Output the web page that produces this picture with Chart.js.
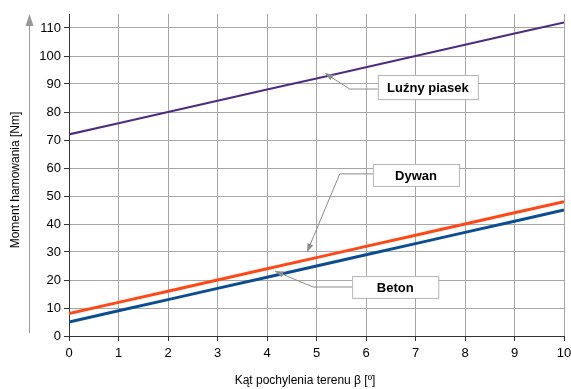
<!DOCTYPE html>
<html>
<head>
<meta charset="utf-8">
<script src="https://cdn.jsdelivr.net/npm/chart.js@4/dist/chart.umd.min.js"></script>
<style>
  html, body { margin: 0; padding: 0; background: #fff; }
  #wrap { width: 571px; height: 389px; }
</style>
</head>
<body>
<div id="wrap"><canvas id="chart"></canvas></div>
<script>
const angles = [0, 1, 2, 3, 4, 5, 6, 7, 8, 9, 10];
const luznyPiasek = [72, 76, 80, 84, 88, 92, 96, 100, 104, 108, 112];
const dywan = [8, 12, 16, 20, 24, 28, 32, 36, 40, 44, 48];
const beton = [5, 9, 13, 17, 21, 25, 29, 33, 37, 41, 45];

const xTitle = 'Kąt pochylenia terenu β [º]';
const yTitle = 'Moment hamowania [Nm]';

// callouts: label box (data coords), elbow and arrow tip
const callouts = [
    { text: 'Luźny piasek', box: [6.24, 8.26, 93.2, 84.6], elbow: [5.67, 88.2], tip: [5.17, 93.9] },
    { text: 'Dywan', box: [6.14, 7.88, 61.4, 53.6], elbow: [5.47, 57.9], tip: [4.81, 30.0] },
    { text: 'Beton', box: [5.72, 7.46, 21.4, 13.6], elbow: [4.93, 17.5], tip: [4.16, 23.2] },
];

const fontFamily = '"Liberation Sans", Arial, sans-serif';

const calloutPlugin = {
    id: 'callouts',
    afterDatasetsDraw(chart) {
        const ctx = chart.ctx;
        const x = chart.scales.x, y = chart.scales.y;
        ctx.save();
        callouts.forEach(function(c) {
            const bx0 = x.getPixelForValue(c.box[0]), bx1 = x.getPixelForValue(c.box[1]);
            const by0 = y.getPixelForValue(c.box[2]), by1 = y.getPixelForValue(c.box[3]);
            const ex = x.getPixelForValue(c.elbow[0]), ey = y.getPixelForValue(c.elbow[1]);
            const tx = x.getPixelForValue(c.tip[0]), ty = y.getPixelForValue(c.tip[1]);
            ctx.strokeStyle = '#8c8c8c';
            ctx.lineWidth = 1;
            ctx.beginPath();
            ctx.moveTo(bx0, ey);
            ctx.lineTo(ex, ey);
            ctx.lineTo(tx, ty);
            ctx.stroke();
            // arrow head
            const ang = Math.atan2(ty - ey, tx - ex);
            ctx.fillStyle = '#8c8c8c';
            ctx.beginPath();
            ctx.moveTo(tx, ty);
            ctx.lineTo(tx - 9 * Math.cos(ang - 0.35), ty - 9 * Math.sin(ang - 0.35));
            ctx.lineTo(tx - 9 * Math.cos(ang + 0.35), ty - 9 * Math.sin(ang + 0.35));
            ctx.closePath();
            ctx.fill();
            // box
            ctx.fillStyle = '#fff';
            ctx.fillRect(bx0, by0, bx1 - bx0, by1 - by0);
            ctx.strokeStyle = '#b4b4b4';
            ctx.strokeRect(bx0 + 0.5, by0 + 0.5, bx1 - bx0, by1 - by0);
            ctx.fillStyle = '#000';
            ctx.font = 'bold 13px ' + fontFamily;
            ctx.textAlign = 'center';
            ctx.textBaseline = 'middle';
            ctx.fillText(c.text, (bx0 + bx1) / 2, (by0 + by1) / 2 + 1);
        });
        // y axis arrow
        const ax = 29.5;
        ctx.strokeStyle = '#999';
        ctx.fillStyle = '#999';
        ctx.beginPath();
        ctx.moveTo(ax, 333);
        ctx.lineTo(ax, 24);
        ctx.stroke();
        ctx.beginPath();
        ctx.moveTo(ax, 14);
        ctx.lineTo(ax - 4, 26);
        ctx.lineTo(ax + 4, 26);
        ctx.closePath();
        ctx.fill();
        // axis titles
        ctx.fillStyle = '#000';
        ctx.font = '12px ' + fontFamily;
        ctx.textAlign = 'center';
        ctx.textBaseline = 'middle';
        ctx.fillText(xTitle, 305, 381);
        ctx.translate(16, 180);
        ctx.rotate(-Math.PI / 2);
        ctx.fillText(yTitle, 0, 0);
        ctx.restore();
    }
};

const font = { family: fontFamily, size: 13 };

new Chart(document.getElementById('chart'), {
    type: 'line',
    data: {
        labels: angles,
        datasets: [
            { label: 'Luźny piasek', data: luznyPiasek, borderColor: '#4f2a85', borderWidth: 2, pointRadius: 0 },
            { label: 'Beton', data: beton, borderColor: '#0a4d93', borderWidth: 3, pointRadius: 0 },
            { label: 'Dywan', data: dywan, borderColor: '#ff4816', borderWidth: 3, pointRadius: 0 },
        ]
    },
    options: {
        responsive: true,
        maintainAspectRatio: false,
        animation: false,
        events: [],
        layout: { padding: { top: 14, right: 7, left: 0, bottom: 0 } },
        plugins: { legend: { display: false }, tooltip: { enabled: false } },
        scales: {
            x: {
                type: 'linear',
                min: 0, max: 10,
                ticks: { stepSize: 1, color: '#000', font: font, padding: 5, maxRotation: 0 },
                grid: { color: '#a6a6a6', tickColor: '#333', tickLength: 5 },
                border: { color: '#333', width: 1 },
                afterFit: function(s) { s.height = 53; s.paddingLeft = 0; s.paddingRight = 0; }
            },
            y: {
                min: 0, max: 115,
                ticks: {
                    stepSize: 5, color: '#000', font: font, padding: 3,
                    callback: function(v) { return v % 10 === 0 ? v : ''; }
                },
                grid: { color: '#a6a6a6', tickColor: '#333', tickLength: 5 },
                border: { color: '#333', width: 1 },
                afterFit: function(s) { s.width = 69; s.paddingTop = 0; s.paddingBottom = 0; }
            }
        }
    },
    plugins: [calloutPlugin]
});
</script>
</body>
</html>
